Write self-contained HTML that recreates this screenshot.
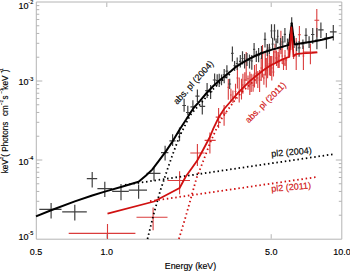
<!DOCTYPE html>
<html><head><meta charset="utf-8"><style>html,body{margin:0;padding:0;background:#fff;}svg{display:block;}</style></head>
<body>
<svg width="350" height="271" viewBox="0 0 350 271">
<rect x="0" y="0" width="350" height="271" fill="#fff"/>
<path d="M36.3,2H341.8V239.2H36.3ZM36.3,81.00h6M341.8,81.00h-6M36.3,57.22h3M341.8,57.22h-3M36.3,43.31h3M341.8,43.31h-3M36.3,33.44h3M341.8,33.44h-3M36.3,25.78h3M341.8,25.78h-3M36.3,19.53h3M341.8,19.53h-3M36.3,14.24h3M341.8,14.24h-3M36.3,9.66h3M341.8,9.66h-3M36.3,5.61h3M341.8,5.61h-3M36.3,160.00h6M341.8,160.00h-6M36.3,136.22h3M341.8,136.22h-3M36.3,122.31h3M341.8,122.31h-3M36.3,112.44h3M341.8,112.44h-3M36.3,104.78h3M341.8,104.78h-3M36.3,98.53h3M341.8,98.53h-3M36.3,93.24h3M341.8,93.24h-3M36.3,88.66h3M341.8,88.66h-3M36.3,84.61h3M341.8,84.61h-3M36.3,215.22h3M341.8,215.22h-3M36.3,201.31h3M341.8,201.31h-3M36.3,191.44h3M341.8,191.44h-3M36.3,183.78h3M341.8,183.78h-3M36.3,177.53h3M341.8,177.53h-3M36.3,172.24h3M341.8,172.24h-3M36.3,167.66h3M341.8,167.66h-3M36.3,163.61h3M341.8,163.61h-3M106.80,2.5v4.5M106.80,238.7v-4.5M271.20,2.5v4.5M271.20,238.7v-4.5" fill="none" stroke="#b4b4b4" stroke-width="1"/>
<text x="18.6" y="9.4" font-size="9" fill="#000" stroke="#000" text-anchor="start" font-family="Liberation Sans, sans-serif" stroke-width="0.15" >10</text>
<text x="28.3" y="3.8" font-size="5.5" fill="#000" stroke="#000" text-anchor="start" font-family="Liberation Sans, sans-serif" stroke-width="0.15" >-2</text>
<text x="18.6" y="85.4" font-size="9" fill="#000" stroke="#000" text-anchor="start" font-family="Liberation Sans, sans-serif" stroke-width="0.15" >10</text>
<text x="28.3" y="80.8" font-size="5.5" fill="#000" stroke="#000" text-anchor="start" font-family="Liberation Sans, sans-serif" stroke-width="0.15" >-3</text>
<text x="18.6" y="164.6" font-size="9" fill="#000" stroke="#000" text-anchor="start" font-family="Liberation Sans, sans-serif" stroke-width="0.15" >10</text>
<text x="28.3" y="160.0" font-size="5.5" fill="#000" stroke="#000" text-anchor="start" font-family="Liberation Sans, sans-serif" stroke-width="0.15" >-4</text>
<text x="18.6" y="239.6" font-size="9" fill="#000" stroke="#000" text-anchor="start" font-family="Liberation Sans, sans-serif" stroke-width="0.15" >10</text>
<text x="28.3" y="235.0" font-size="5.5" fill="#000" stroke="#000" text-anchor="start" font-family="Liberation Sans, sans-serif" stroke-width="0.15" >-5</text>
<text x="36" y="255.3" font-size="9" fill="#000" stroke="#000" text-anchor="middle" font-family="Liberation Sans, sans-serif" stroke-width="0.15" >0.5</text>
<text x="106.8" y="255.3" font-size="9" fill="#000" stroke="#000" text-anchor="middle" font-family="Liberation Sans, sans-serif" stroke-width="0.15" >1.0</text>
<text x="271.2" y="255.3" font-size="9" fill="#000" stroke="#000" text-anchor="middle" font-family="Liberation Sans, sans-serif" stroke-width="0.15" >5.0</text>
<text x="342.0" y="255.3" font-size="9" fill="#000" stroke="#000" text-anchor="middle" font-family="Liberation Sans, sans-serif" stroke-width="0.15" >10.0</text>
<text x="190.5" y="268.9" font-size="8.8" fill="#000" stroke="#000" text-anchor="middle" font-family="Liberation Sans, sans-serif" stroke-width="0.15" >Energy (keV)</text>
<text transform="translate(8.3,173.3) rotate(-90)" font-size="8.2" font-family="Liberation Sans, sans-serif" stroke-width="0.15" fill="#000" stroke="#000">keV</text>
<text transform="translate(3.0,159.2) rotate(-90)" font-size="4.3" font-family="Liberation Sans, sans-serif" stroke-width="0.15" fill="#000" stroke="#000">2</text>
<text transform="translate(8.3,156.7) rotate(-90)" font-size="8.2" font-family="Liberation Sans, sans-serif" stroke-width="0.15" fill="#000" stroke="#000">(</text>
<text transform="translate(8.3,151.7) rotate(-90)" font-size="8.2" font-family="Liberation Sans, sans-serif" stroke-width="0.15" fill="#000" stroke="#000">Photons</text>
<text transform="translate(8.3,116.1) rotate(-90)" font-size="8.2" font-family="Liberation Sans, sans-serif" stroke-width="0.15" fill="#000" stroke="#000">cm</text>
<text transform="translate(3.0,104.9) rotate(-90)" font-size="4.3" font-family="Liberation Sans, sans-serif" stroke-width="0.15" fill="#000" stroke="#000">&#8722;2</text>
<text transform="translate(8.3,99.5) rotate(-90)" font-size="8.2" font-family="Liberation Sans, sans-serif" stroke-width="0.15" fill="#000" stroke="#000">s</text>
<text transform="translate(3.0,93.6) rotate(-90)" font-size="4.3" font-family="Liberation Sans, sans-serif" stroke-width="0.15" fill="#000" stroke="#000">&#8722;1</text>
<text transform="translate(8.3,89.7) rotate(-90)" font-size="8.2" font-family="Liberation Sans, sans-serif" stroke-width="0.15" fill="#000" stroke="#000">keV</text>
<text transform="translate(3.0,73.2) rotate(-90)" font-size="4.3" font-family="Liberation Sans, sans-serif" stroke-width="0.15" fill="#000" stroke="#000">&#8722;1</text>
<text transform="translate(8.3,72.2) rotate(-90)" font-size="8.2" font-family="Liberation Sans, sans-serif" stroke-width="0.15" fill="#000" stroke="#000">)</text>
<path d="M107.50,224.00V239.00M68.70,233.40H135.40M153.10,207.50V230.20M136.50,217.30H167.50M179.60,171.20V194.20M167.50,180.50H190.00M197.40,143.90V166.00M190.30,153.00H204.60M209.90,132.40V153.60M204.60,140.40H215.70M218.60,108.00V128.00M215.70,117.10H220.90M224.10,105.10V125.70M222.20,113.10H226.60M228.30,79.10V99.80M227.40,87.40H229.20M230.90,88.80V101.70M230.00,95.00H231.80M232.90,90.60V103.00M232.00,97.00H233.80M235.50,83.70V99.40M234.60,91.50H236.40M237.40,66.30V88.50M236.50,78.00H238.30M239.20,77.40V102.60M238.30,92.00H240.10M241.50,78.80V99.40M240.60,90.00H242.40M242.90,73.70V93.80M242.00,85.00H243.80M244.80,72.30V88.00M243.90,80.00H245.70M246.20,52.10V81.00M245.30,62.00H247.10M248.00,75.50V89.80M247.10,78.80H248.90M249.80,71.80V95.00M248.90,84.30H250.70M251.20,73.70V92.10M250.30,83.00H252.10M253.10,74.60V91.70M252.20,85.20H254.00M254.50,65.00V87.50M253.60,74.00H255.40M256.30,64.00V83.80M255.40,73.00H257.20M257.80,70.90V88.00M256.90,78.00H258.70M259.60,70.00V92.00M258.70,80.00H260.50M261.20,58.00V81.00M260.30,68.00H262.10M262.50,45.10V77.40M261.60,54.00H263.40M263.90,73.70V84.80M263.00,78.00H264.80M265.20,52.40V75.50M264.30,69.00H266.10M266.30,58.00V87.50M265.40,70.00H267.20M267.60,45.00V78.30M266.70,66.00H268.50M269.40,54.20V75.50M268.50,64.00H270.30M270.60,56.00V76.00M269.70,66.00H271.50M271.80,56.00V80.60M270.90,68.00H272.70M273.50,50.50V76.50M272.60,72.00H274.40M275.00,43.70V62.00M274.10,52.00H275.90M276.50,50.50V66.00M275.60,58.00H277.40M278.00,52.00V68.00M277.10,60.00H278.90M279.20,46.80V68.00M278.30,56.00H280.10M280.90,30.80V54.20M280.00,42.00H281.80M282.20,48.00V64.00M281.30,56.00H283.10M283.50,58.80V70.00M282.60,64.00H284.40M285.00,50.00V66.00M284.10,56.00H285.90M286.30,57.90V70.00M285.40,60.00H287.20M288.30,42.00V58.00M287.40,50.00H289.20M290.90,26.90V50.00M290.00,36.00H291.80M293.60,55.00V59.00M292.70,56.50H294.50M296.20,38.00V70.00M295.30,56.00H297.10M299.40,26.00V48.00M297.90,34.80H300.90M303.40,45.40V70.00M302.50,56.00H304.30M310.40,43.50V64.30M303.80,52.00H317.00M316.80,9.00V37.20M314.40,20.20H319.20" fill="none" stroke="#da3c3c" stroke-width="1.1"/>
<path d="M51.10,202.90V218.60M39.30,209.40H61.50M74.80,204.80V220.50M62.20,211.80H86.80M92.20,172.00V187.40M86.80,178.60H97.20M104.80,181.80V196.90M97.40,188.60H112.20M121.00,184.00V200.20M112.20,191.40H128.80M138.60,184.50V198.80M128.80,190.10H147.00M154.00,167.80V180.70M146.60,173.30H160.50M165.10,145.80V160.60M161.00,152.70H168.40M172.60,134.20V146.00M169.40,140.80H175.60M179.50,127.40V141.20M177.00,133.30H181.70M184.10,98.70V111.80M182.30,105.50H186.00M187.80,105.80V115.00M186.00,112.50H189.70M192.90,100.30V110.90M190.40,106.80H195.40M197.40,89.40V102.10M195.40,96.20H199.50M202.30,100.30V114.60M199.70,106.30H205.20M207.10,83.10V98.00M205.20,90.60H209.00M210.60,84.90V99.10M209.00,91.70H212.40M214.60,73.50V84.90M212.80,80.00H216.20M217.20,74.30V85.50M216.00,80.50H218.40M219.20,73.80V87.00M218.20,81.00H220.40M221.50,74.40V85.20M220.50,80.40H222.60M224.20,68.90V83.20M222.80,74.90H225.60M226.90,65.20V78.50M225.60,71.20H228.20M229.70,78.80V89.00M228.40,84.00H231.10M232.40,46.60V61.40M231.10,53.30H233.60M234.60,60.90V71.00M233.50,65.70H235.80M237.20,57.50V70.00M235.90,63.50H238.40M240.30,54.90V67.40M239.00,61.40H241.40M242.50,51.20V64.50M241.40,58.50H243.60M244.60,54.00V68.60M243.60,61.00H245.60M247.00,53.00V66.00M245.80,59.00H248.20M249.50,54.50V68.60M248.30,60.30H250.60M251.80,54.90V69.70M250.70,61.00H252.90M254.10,42.90V56.00M253.00,49.40H255.20M256.30,50.80V62.00M255.20,56.00H257.40M258.60,48.00V62.30M257.40,55.50H259.70M261.50,46.00V59.00M260.30,52.50H262.70M265.00,32.60V47.40M263.80,39.30H266.20M267.30,44.00V56.00M266.20,50.00H268.40M269.40,43.70V54.00M268.40,48.00H270.50M271.50,24.30V38.30M270.50,30.80H272.40M272.60,37.70V50.00M271.60,44.10H273.60M274.50,24.30V40.50M273.50,30.80H275.50M276.10,38.60V47.00M275.30,41.80H277.00M277.70,29.80V43.20M276.90,36.30H278.60M280.50,38.00V50.00M279.40,44.00H281.60M282.70,36.00V48.00M281.70,42.00H283.80M284.90,27.90V42.60M283.80,34.40H286.00M287.50,38.50V49.50M286.30,44.00H288.70M289.60,34.00V46.00M288.70,40.00H290.60M291.70,17.20V30.00M290.60,23.40H292.80M294.00,36.00V48.00M292.80,42.00H295.20M296.60,41.70V51.00M295.30,45.00H297.90M299.10,41.00V56.70M297.80,47.80H300.50M302.90,39.50V49.00M301.30,44.00H304.40M306.00,28.30V43.50M304.60,35.40H307.40M309.10,36.30V48.10M307.60,42.00H310.60M312.70,28.00V43.70M311.00,34.50H314.40M316.90,28.00V49.30M315.20,40.00H318.60M320.90,22.50V37.90M318.20,29.80H323.60M326.40,33.00V48.70M324.30,38.00H328.50M333.30,25.10V40.60M329.90,31.90H336.60" fill="none" stroke="#404040" stroke-width="1.2"/>
<path d="M125.00,184.90 L138.60,182.90 L333.50,154.20" fill="none" stroke="#000" stroke-width="1.8" stroke-linejoin="round" stroke-dasharray="1.5 2.75" opacity="1"/>
<path d="M150.00,201.20 L156.80,200.20 L316.20,177.10" fill="none" stroke="#d01010" stroke-width="1.8" stroke-linejoin="round" stroke-dasharray="1.5 2.75" opacity="1"/>
<path d="M147.50,239.00 L154.00,213.00 L160.50,190.00 L166.90,170.90 L172.50,155.00 L179.20,137.00 L186.00,123.50 L190.00,115.50 L195.00,109.50 L200.00,104.50 L207.00,96.00 L215.10,87.00 L222.00,80.50 L230.00,74.00" fill="none" stroke="#000" stroke-width="1.8" stroke-linejoin="round" stroke-dasharray="1.5 2.75" opacity="1"/>
<path d="M178.90,239.00 L185.00,219.00 L190.00,201.50 L196.40,178.50 L204.40,158.00 L210.00,143.00 L216.60,128.50 L222.00,118.00 L227.70,110.00 L235.00,100.00 L242.00,92.00 L249.10,85.50 L256.00,79.00" fill="none" stroke="#d01010" stroke-width="1.8" stroke-linejoin="round" stroke-dasharray="1.5 2.75" opacity="1"/>
<path d="M36.00,216.40 L51.10,210.30 L74.80,201.40 L92.20,195.50 L104.80,191.60 L121.00,187.00 L138.60,181.80 L146.00,175.50 L152.20,169.60 L159.00,160.60 L165.70,151.60 L172.50,141.50 L179.20,130.20 L186.00,119.80 L189.30,114.40 L194.00,107.50 L200.00,100.80 L206.60,93.00 L213.30,86.00 L219.90,80.00 L225.00,76.00 L231.40,70.80 L236.00,66.80 L241.40,63.30 L247.00,60.20 L252.00,57.50 L257.00,55.00 L262.00,53.00 L267.00,51.20 L272.00,49.60 L277.00,48.20 L282.80,46.60 L286.50,45.60 L289.00,44.80 L291.70,23.30 L294.30,44.20 L297.00,43.90 L303.00,43.00 L310.00,41.90 L316.00,40.90 L322.00,39.80 L328.00,38.20 L333.30,36.90" fill="none" stroke="#000" stroke-width="2" stroke-linejoin="round" opacity="1"/>
<path d="M107.50,213.60 L154.00,201.50 L179.60,188.00 L185.80,176.50 L192.30,167.40 L197.40,160.30 L203.00,150.00 L209.90,137.00 L213.30,128.70 L218.60,117.60 L224.10,109.00 L231.00,101.00 L237.60,93.30 L244.20,86.60 L249.80,81.10 L256.00,76.00 L263.00,70.50 L270.00,65.80 L276.00,62.60 L282.00,59.60 L287.00,57.60 L289.30,57.00 L291.40,27.50 L293.50,56.00 L296.00,54.20 L300.00,53.60 L306.00,53.20 L312.00,52.80 L317.40,52.30" fill="none" stroke="#d01010" stroke-width="1.8" stroke-linejoin="round" opacity="1"/>
<text transform="translate(177.2,105) rotate(-48)" font-size="9" font-family="Liberation Sans, sans-serif" stroke-width="0.15" fill="#000" stroke="#000">abs. pl (2004)</text>
<text transform="translate(248.8,123.4) rotate(-45)" font-size="8.85" font-family="Liberation Sans, sans-serif" stroke-width="0.15" fill="#d01010" stroke="#d01010">abs. pl (2011)</text>
<text transform="translate(271.5,156.8) rotate(-5)" font-size="9" font-family="Liberation Sans, sans-serif" stroke-width="0.15" fill="#000" stroke="#000">pl2 (2004)</text>
<text transform="translate(271.5,191.8) rotate(-5)" font-size="9" font-family="Liberation Sans, sans-serif" stroke-width="0.15" fill="#d01010" stroke="#d01010">pl2 (2011)</text>
</svg>
</body></html>
